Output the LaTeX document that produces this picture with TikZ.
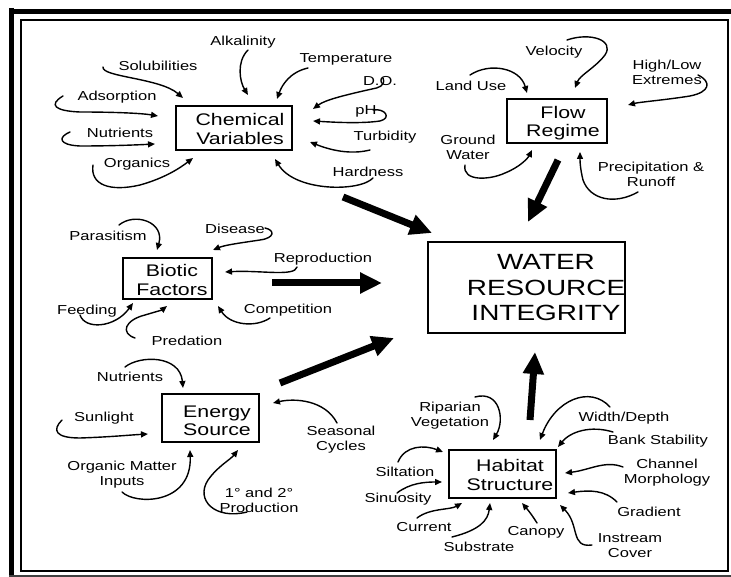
\documentclass[tikz,border=0pt]{standalone}
\usepackage{fontspec}
\setmainfont{Liberation Sans}[FakeStretch=1.27]
\usetikzlibrary{arrows.meta}
\begin{document}
\begin{tikzpicture}[x=1pt,y=-1pt,
  lbl/.style={font=\fontsize{13}{15}\selectfont, align=center, inner sep=0pt},
  boxframe/.style={draw, line width=2pt, inner sep=0pt},
  boxtext/.style={font=\fontsize{16.8}{18.5}\selectfont, align=center, inner sep=0pt},
  bigtext/.style={font=\fontsize{22}{25.5}\selectfont, align=center, inner sep=0pt},
  thinarrow/.style={line width=1.4pt, -{Triangle[length=7pt,width=6pt]}, line cap=round},
  bigarrow/.style={line width=7pt, -{Triangle[length=22pt,width=20pt]}}]
\useasboundingbox (0,0) rectangle (731,577);
% frame
\draw[line width=5pt] (11,8) -- (11,577);
\draw[line width=4.5pt] (9,11.5) -- (731,11.5);
\draw[line width=1.5pt, black!75] (9,576) -- (731,576);
\draw[line width=1.6pt] (21,20) rectangle (728,571);

% boxes
\node[boxframe, minimum width=116, minimum height=44] (chem) at (234,128) {};
\node[boxtext] (chemT) at (240,129) {Chemical\\Variables};
\node[boxframe, minimum width=100, minimum height=44] (flow) at (557,121) {};
\node[boxtext] (flowT) at (563,123) {Flow\\Regime};
\node[boxframe, line width=2.4pt, minimum width=197, minimum height=91] (wri) at (526.5,287.5) {};
\node[bigtext] (wriT) at (546,288) {WATER\\RESOURCE\\INTEGRITY};
\node[boxframe, minimum width=89, minimum height=41] (bio) at (167.5,278.5) {};
\node[boxtext] (bioT) at (172,280) {Biotic\\Factors};
\node[boxframe, minimum width=97, minimum height=48] (ene) at (210.5,418) {};
\node[boxtext] (eneT) at (217,421) {Energy\\Source};
\node[boxframe, minimum width=107, minimum height=48] (hab) at (502.5,474) {};
\node[boxtext] (habT) at (510,475) {Habitat\\Structure};

% labels: chemical
\node[lbl] (lAlk) at (243,42) {Alkalinity};
\node[lbl] (lSol) at (158,66) {Solubilities};
\node[lbl] (lTemp) at (346,59) {Temperature};
\node[lbl] (lDO) at (380,81) {D.O.};
\node[lbl] (lpH) at (366,111) {pH};
\node[lbl] (lTurb) at (385,137) {Turbidity};
\node[lbl] (lHard) at (368,172) {Hardness};
\node[lbl] (lAds) at (117,97) {Adsorption};
\node[lbl] (lNutA) at (120,133) {Nutrients};
\node[lbl] (lOrg) at (137,164) {Organics};
% labels: flow
\node[lbl] (lVel) at (554,52) {Velocity};
\node[lbl] (lLand) at (471,86) {Land Use};
\node[lbl] (lHL) at (667,72) {High/Low\\Extremes};
\node[lbl] (lGW) at (468,147.5) {Ground\\Water};
\node[lbl] (lPrec) at (651,174.5) {Precipitation \&\\Runoff};
% labels: biotic
\node[lbl] (lPar) at (108,236) {Parasitism};
\node[lbl] (lDis) at (235,229) {Disease};
\node[lbl] (lRep) at (323,259) {Reproduction};
\node[lbl] (lComp) at (288,310) {Competition};
\node[lbl] (lFeed) at (87,311) {Feeding};
\node[lbl] (lPred) at (187,341) {Predation};
% labels: energy
\node[lbl] (lNutB) at (130,377) {Nutrients};
\node[lbl] (lSun) at (104,418) {Sunlight};
\node[lbl] (lOM) at (122,474.5) {Organic Matter\\Inputs};
\node[lbl] (lSeas) at (341,440) {Seasonal\\Cycles};
\node[lbl] (lProd) at (259,500) {1° and 2°\\Production};
% labels: habitat
\node[lbl] (lRip) at (450,415.5) {Riparian\\Vegetation};
\node[lbl] (lWD) at (624,418) {Width/Depth};
\node[lbl] (lBank) at (658,441) {Bank Stability};
\node[lbl] (lChan) at (667,473) {Channel\\Morphology};
\node[lbl] (lGrad) at (649,512) {Gradient};
\node[lbl] (lInst) at (630,545.5) {Instream\\Cover};
\node[lbl] (lCan) at (536,532) {Canopy};
\node[lbl] (lSub) at (479,547) {Substrate};
\node[lbl] (lCur) at (424,527) {Current};
\node[lbl] (lSilt) at (405,472) {Siltation};
\node[lbl] (lSin) at (398,499) {Sinuosity};

% thin arrows: chemical
\draw[thinarrow] (103,67) .. controls (101,77) and (160,78) .. (183,98);
\draw[thinarrow] (248,50) .. controls (236,62) and (240,82) .. (248,95);
\draw[thinarrow] (308,68) .. controls (290,72) and (282,85) .. (277,99);
\draw[thinarrow] (383,78) .. controls (386,86) and (378,88) .. (372,89) .. controls (345,95) and (325,100) .. (313,109);
\draw[thinarrow] (373,110) .. controls (385,108) and (392,118) .. (380,121) .. controls (360,124) and (330,122) .. (313,121);
\draw[thinarrow] (370,150) .. controls (350,155) and (330,150) .. (310,142);
\draw[thinarrow] (373,178) .. controls (360,192) and (295,192) .. (275,159);
\draw[thinarrow] (63,96) .. controls (48,105) and (55,111) .. (80,112) .. controls (110,112) and (140,113) .. (158,116);
\draw[thinarrow] (70,132) .. controls (58,137) and (58,145) .. (80,146) .. controls (110,146) and (135,145) .. (155,144);
\draw[thinarrow] (93,165) .. controls (90,185) and (110,192) .. (140,185) .. controls (165,178) and (180,168) .. (193,158);
% thin arrows: flow
\draw[thinarrow] (567,40) .. controls (590,32) and (615,40) .. (605,55) .. controls (595,68) and (580,75) .. (575,88);
\draw[thinarrow] (470,75) .. controls (490,62) and (520,68) .. (527,93);
\draw[thinarrow] (698,75) .. controls (712,82) and (710,92) .. (690,96) .. controls (665,100) and (640,102) .. (628,105);
\draw[thinarrow] (465,165) .. controls (462,182) and (490,180) .. (505,173) .. controls (520,167) and (528,158) .. (532,150);
\draw[thinarrow] (638,192) .. controls (615,205) and (590,200) .. (583,180) .. controls (580,168) and (580,160) .. (580,152);
% thin arrows: biotic
\draw[thinarrow] (119,225) .. controls (135,212) and (165,222) .. (157,250);
\draw[thinarrow] (265,228) .. controls (275,230) and (275,238) .. (260,240) .. controls (240,243) and (225,245) .. (213,250);
\draw[thinarrow] (297,267) .. controls (295,277) and (260,270) .. (225,272);
\draw[thinarrow] (270,318) .. controls (255,328) and (230,325) .. (218,306);
\draw[thinarrow] (80,315) .. controls (85,330) and (115,328) .. (133,303);
\draw[thinarrow] (135,338) .. controls (120,333) and (125,320) .. (145,315) .. controls (155,312) and (162,310) .. (167,306);
% thin arrows: energy
\draw[thinarrow] (125,367) .. controls (140,355) and (180,355) .. (183,388);
\draw[thinarrow] (62,420) .. controls (52,430) and (55,438) .. (80,438) .. controls (110,437) and (130,435) .. (148,434);
\draw[thinarrow] (122,492) .. controls (135,505) and (192,505) .. (190,450);
\draw[thinarrow] (247,512) .. controls (215,520) and (195,500) .. (208,480) .. controls (218,466) and (230,460) .. (238,450);
\draw[thinarrow] (337,423) .. controls (325,400) and (295,398) .. (273,403);
% thin arrows: habitat
\draw[thinarrow] (475,397) .. controls (500,390) and (505,420) .. (493,440);
\draw[thinarrow] (610,407) .. controls (590,385) and (555,400) .. (540,440);
\draw[thinarrow] (613,432) .. controls (590,425) and (570,432) .. (558,447);
\draw[thinarrow] (623,467) .. controls (605,460) and (590,470) .. (565,473);
\draw[thinarrow] (617,502) .. controls (605,490) and (590,490) .. (568,493);
\draw[thinarrow] (592,545) .. controls (570,548) and (580,525) .. (560,505);
\draw[thinarrow] (537,523) .. controls (532,515) and (528,510) .. (522,503);
\draw[thinarrow] (452,537) .. controls (480,530) and (488,520) .. (490,503);
\draw[thinarrow] (417,518) .. controls (430,508) and (450,510) .. (462,503);
\draw[thinarrow] (398,462) .. controls (405,445) and (425,445) .. (443,452);
\draw[thinarrow] (397,493) .. controls (410,483) and (425,482) .. (442,482);

% big arrows
\coordinate (cS) at (343,197); \coordinate (cE) at (432,233);
\coordinate (bS) at (272,283); \coordinate (bE) at (382,283);
\coordinate (eS) at (280,383); \coordinate (eE) at (394,338);
\coordinate (fS) at (558,160); \coordinate (fE) at (528,222);
\coordinate (hS) at (530,420); \coordinate (hE) at (535,352);
\draw[bigarrow] (cS) -- (cE);
\draw[bigarrow] (bS) -- (bE);
\draw[bigarrow] (eS) -- (eE);
\draw[bigarrow] (fS) -- (fE);
\draw[bigarrow] (hS) -- (hE);
\end{tikzpicture}
\end{document}
